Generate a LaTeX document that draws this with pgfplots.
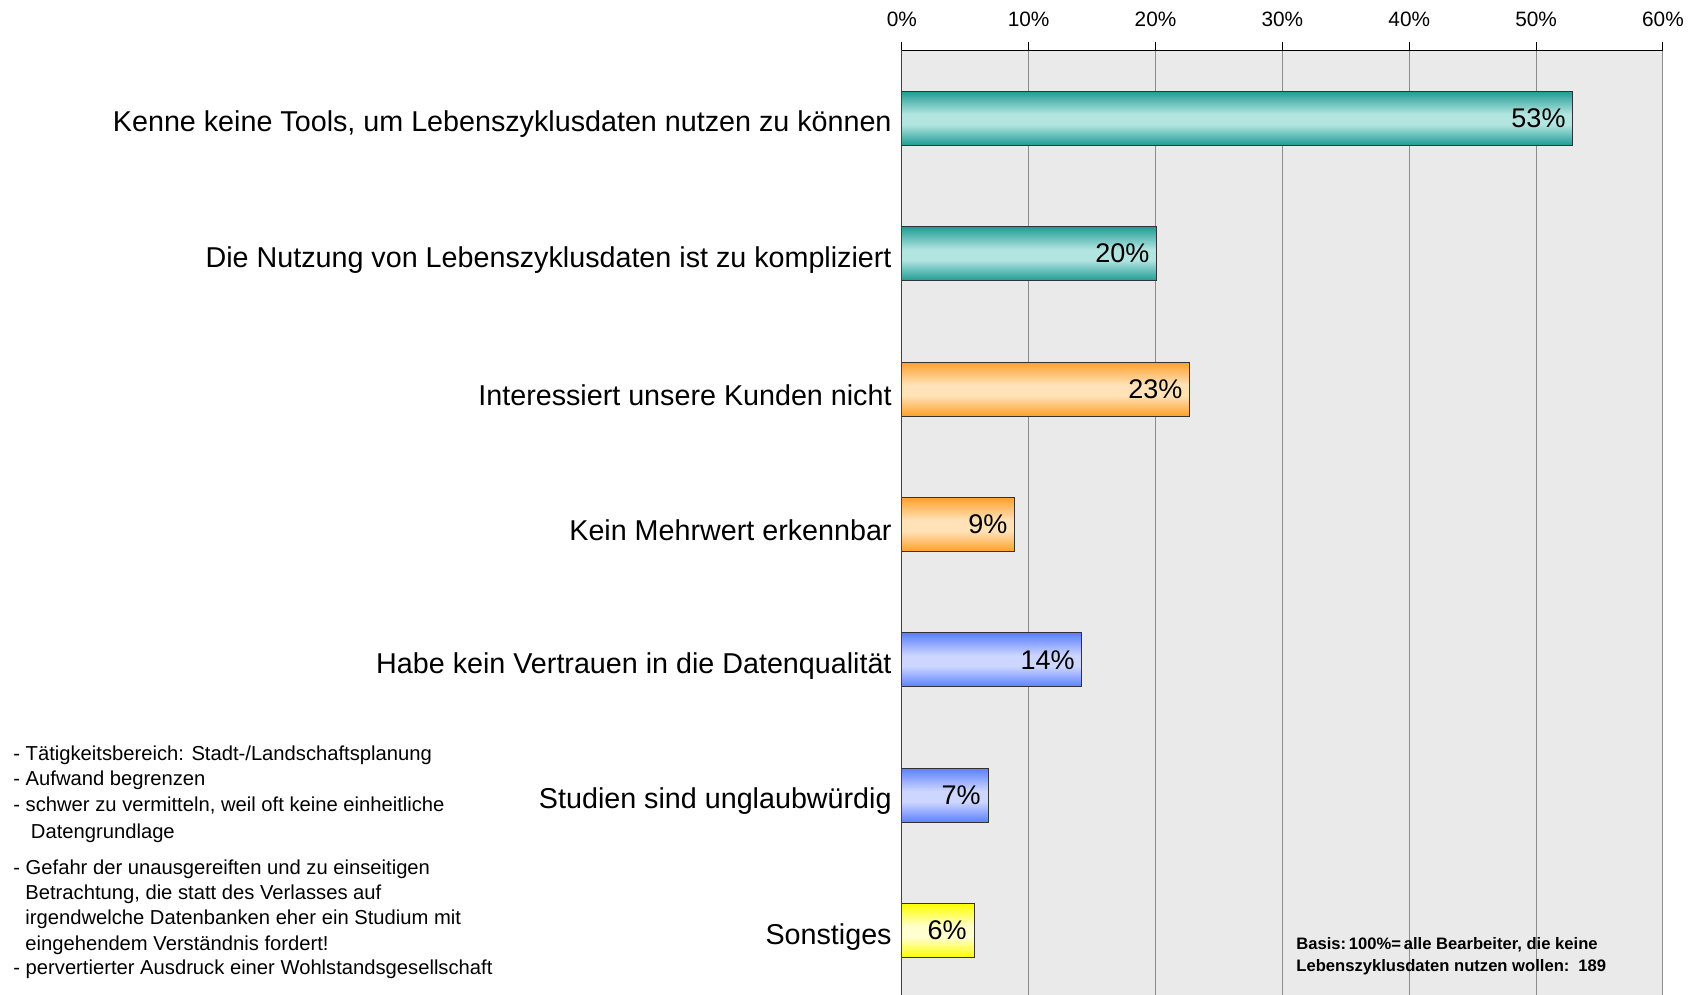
\documentclass[border=0pt]{standalone}
\usepackage{pgfplots}
\pgfplotsset{compat=1.18}
\usepackage{fontspec}
\setmainfont{Liberation Sans}
\definecolor{bg}{RGB}{234,234,234}
\definecolor{gridc}{RGB}{140,140,140}
\definecolor{tealA}{RGB}{30,156,148}
\definecolor{tealB}{RGB}{178,228,224}
\definecolor{orA}{RGB}{255,160,42}
\definecolor{orB}{RGB}{255,226,184}
\definecolor{blA}{RGB}{92,127,255}
\definecolor{blB}{RGB}{204,214,255}
\definecolor{yeA}{RGB}{255,255,0}
\definecolor{yeB}{RGB}{255,255,208}
\pgfdeclareverticalshading{tealsh}{100bp}{color(0bp)=(tealA); color(25bp)=(tealA); color(44bp)=(tealB); color(54bp)=(tealB); color(75bp)=(tealA); color(100bp)=(tealA)}
\pgfdeclareverticalshading{orsh}{100bp}{color(0bp)=(orA); color(25bp)=(orA); color(44bp)=(orB); color(54bp)=(orB); color(75bp)=(orA); color(100bp)=(orA)}
\pgfdeclareverticalshading{blsh}{100bp}{color(0bp)=(blA); color(25bp)=(blA); color(44bp)=(blB); color(54bp)=(blB); color(75bp)=(blA); color(100bp)=(blA)}
\pgfdeclareverticalshading{yesh}{100bp}{color(0bp)=(yeA); color(25bp)=(yeA); color(44bp)=(yeB); color(54bp)=(yeB); color(75bp)=(yeA); color(100bp)=(yeA)}
\newcommand{\notefont}{\fontsize{10.1}{12}\selectfont}
\begin{document}
\begin{tikzpicture}
\begin{axis}[
  at={(450.9pt,0pt)}, anchor=south west,
  scale only axis, width=380.6pt, height=472.25pt,
  xbar, bar width=27pt, bar shift=0pt,
  xmin=0, xmax=60, ymin=0.525, ymax=7.5,
  xtick={0,10,20,30,40,50,60},
  xticklabels={0\%,10\%,20\%,30\%,40\%,50\%,60\%},
  xticklabel pos=upper, xtick pos=upper,
  tick align=outside, major tick length=4pt,
  xtick style={black, line width=0.5pt},
  xticklabel style={font=\fontsize{10.4}{12}\selectfont, anchor=base, inner sep=0pt, yshift=7.9pt},
  ytick={1,2,3,4,5,6,7},
  yticklabels={Sonstiges, Studien sind unglaubwürdig, Habe kein Vertrauen in die Datenqualität, Kein Mehrwert erkennbar, Interessiert unsere Kunden nicht, Die Nutzung von Lebenszyklusdaten ist zu kompliziert, {Kenne keine Tools, um Lebenszyklusdaten nutzen zu können}},
  ytick style={draw=none},
  yticklabel style={font=\fontsize{14.35}{17}\selectfont, anchor=east, inner sep=0pt, xshift=-0.9pt, yshift=-3pt},
  xmajorgrids, grid style={gridc, line width=0.5pt},
  axis background/.style={fill=bg},
  axis line style={draw=none},
  clip=false,
  barsty/.style={draw=black!80, line width=0.5pt, shade, shading=#1},
]
\addplot[barsty=tealsh] coordinates {(52.9,7)};
\addplot[barsty=tealsh] coordinates {(20.1,6)};
\addplot[barsty=orsh] coordinates {(22.7,5)};
\addplot[barsty=orsh] coordinates {(8.9,4)};
\addplot[barsty=blsh] coordinates {(14.2,3)};
\addplot[barsty=blsh] coordinates {(6.8,2)};
\addplot[barsty=yesh] coordinates {(5.7,1)};
\addplot[draw=none, fill=none, point meta=explicit symbolic, nodes near coords,
  nodes near coords style={anchor=east, inner sep=0pt, xshift=-3.5pt, text=black, font=\fontsize{13.5}{16}\selectfont}]
  coordinates {(52.9,7) [53\%] (20.1,6) [20\%] (22.7,5) [23\%] (8.9,4) [9\%] (14.2,3) [14\%] (6.8,2) [7\%] (5.7,1) [6\%]};
\draw[black, line width=0.8pt] (axis cs:0,7.5) -- (axis cs:60,7.5);
\draw[black!75, line width=0.6pt] (axis cs:0,7.5) -- (axis cs:0,0.525);
\end{axis}
\begin{scope}[every node/.style={anchor=base west, inner sep=0pt, font=\notefont}]
\node at (6.5pt,117.15pt) {- Tätigkeitsbereich: Stadt-/Landschaftsplanung};
\node at (6.5pt,104.5pt) {- Aufwand begrenzen};
\node at (6.5pt,91.65pt) {- schwer zu vermitteln, weil oft keine einheitliche};
\node at (15.3pt,78.35pt) {Datengrundlage};
\node at (6.5pt,60.35pt) {- Gefahr der unausgereiften und zu einseitigen};
\node at (12.5pt,47.85pt) {Betrachtung, die statt des Verlasses auf};
\node at (12.5pt,35pt) {irgendwelche Datenbanken eher ein Studium mit};
\node at (12.5pt,22.15pt) {eingehendem Verständnis fordert!};
\node at (6.5pt,10pt) {- pervertierter Ausdruck einer Wohlstandsgesellschaft};
\end{scope}
\begin{scope}[every node/.style={anchor=base west, inner sep=0pt, font=\fontsize{8.3}{10}\selectfont\bfseries}]
\node at (648pt,22.55pt) {Basis:\,100\%=\,alle Bearbeiter, die keine};
\node at (648pt,11.7pt) {Lebenszyklusdaten nutzen wollen:};
\node at (789pt,11.7pt) {189};
\end{scope}
\pgfresetboundingbox
\path (0,0) rectangle (846.5pt,497.5pt);
\end{tikzpicture}
\end{document}
